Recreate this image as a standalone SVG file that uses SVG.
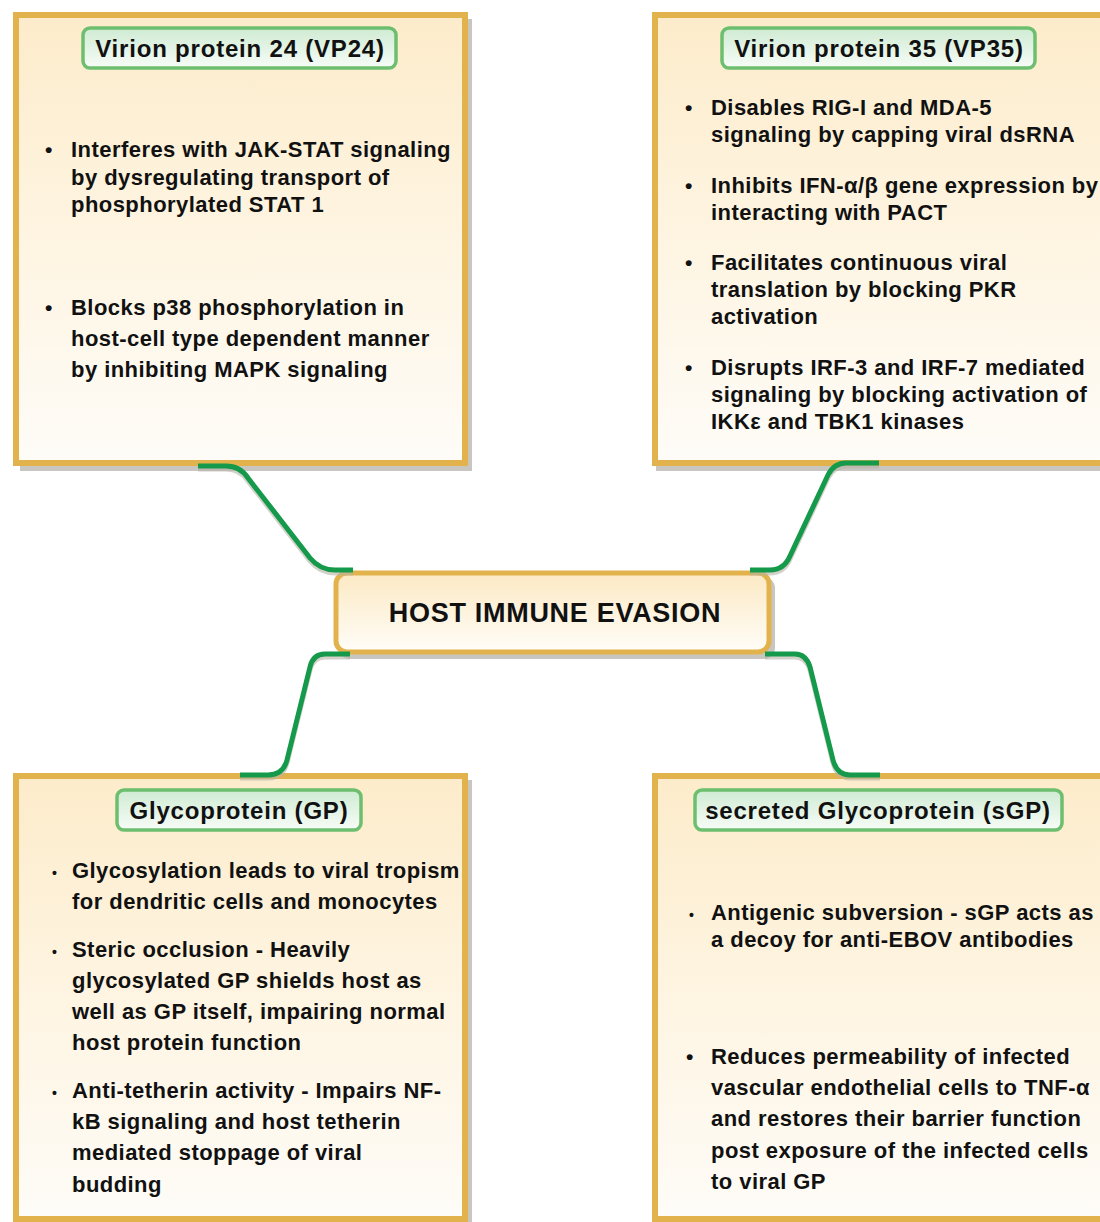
<svg xmlns="http://www.w3.org/2000/svg" width="1100" height="1222" viewBox="0 0 1100 1222">
<defs>
<linearGradient id="boxg" x1="0" y1="0" x2="0" y2="1">
<stop offset="0" stop-color="#FDECCB"/>
<stop offset="0.6" stop-color="#FEF6E6"/>
<stop offset="1" stop-color="#FEFCF8"/>
</linearGradient>
<linearGradient id="ttlg" x1="0" y1="0" x2="0" y2="1">
<stop offset="0" stop-color="#CFEBD3"/>
<stop offset="1" stop-color="#F7FCF7"/>
</linearGradient>
<linearGradient id="ctrg" x1="0" y1="0" x2="0" y2="1">
<stop offset="0" stop-color="#FCE9C4"/>
<stop offset="1" stop-color="#FFFDF8"/>
</linearGradient>
</defs>
<style>
.box{fill:url(#boxg);stroke:#E2B34D;stroke-width:6}
.shd{fill:#C9C6C1}
.ttl{fill:url(#ttlg);stroke:#6DBE6E;stroke-width:3.5}
.tt{font-family:"Liberation Sans",Arial,sans-serif;font-weight:bold;font-size:24px;letter-spacing:0.8px;fill:#111;text-anchor:middle}
.t{font-family:"Liberation Sans",Arial,sans-serif;font-weight:bold;font-size:22px;letter-spacing:0.45px;fill:#111}
.b{font-family:"Liberation Sans",Arial,sans-serif;font-weight:bold;font-size:21px;fill:#111}
.bs{font-family:"Liberation Sans",Arial,sans-serif;font-weight:bold;font-size:14px;fill:#111}
.con{fill:none;stroke:#15994A;stroke-width:5;stroke-linecap:butt}
.cons{fill:none;stroke:#B8B3A8;stroke-width:5;opacity:0.6}
</style>

<g id="vp24">
<rect class="shd" x="20" y="19" width="452" height="452"/>
<rect class="box" x="16" y="15" width="449" height="448"/>
<rect class="ttl" x="83" y="28" width="313" height="40" rx="7"/>
<text class="tt" x="240" y="57">Virion protein 24 (VP24)</text>
<text class="b" x="45" y="157">•</text>
<text class="t" x="71" y="157">Interferes with JAK-STAT signaling</text>
<text class="t" x="71" y="185">by dysregulating transport of</text>
<text class="t" x="71" y="212">phosphorylated STAT 1</text>
<text class="b" x="45" y="315">•</text>
<text class="t" x="71" y="315">Blocks p38 phosphorylation  in</text>
<text class="t" x="71" y="346">host-cell type dependent manner</text>
<text class="t" x="71" y="377">by inhibiting MAPK signaling</text>
</g>

<g id="vp35">
<rect class="shd" x="656" y="19" width="460" height="452"/>
<rect class="box" x="655" y="15" width="460" height="448"/>
<rect class="ttl" x="722" y="28" width="313" height="40" rx="7"/>
<text class="tt" x="879" y="57">Virion protein 35 (VP35)</text>
<text class="b" x="685" y="115">•</text>
<text class="t" x="711" y="115">Disables RIG-I and MDA-5</text>
<text class="t" x="711" y="142">signaling by capping viral dsRNA</text>
<text class="b" x="685" y="193">•</text>
<text class="t" x="711" y="193">Inhibits IFN-α/β gene expression by</text>
<text class="t" x="711" y="220">interacting with PACT</text>
<text class="b" x="685" y="270">•</text>
<text class="t" x="711" y="270">Facilitates continuous viral</text>
<text class="t" x="711" y="297">translation by blocking PKR</text>
<text class="t" x="711" y="324">activation</text>
<text class="b" x="685" y="375">•</text>
<text class="t" x="711" y="375">Disrupts IRF-3 and IRF-7 mediated</text>
<text class="t" x="711" y="402">signaling by blocking activation of</text>
<text class="t" x="711" y="429">IKKε and TBK1 kinases</text>
</g>

<g id="gp">
<rect class="shd" x="20" y="780" width="452" height="445"/>
<rect class="box" x="16" y="776" width="449" height="443"/>
<rect class="ttl" x="117" y="790" width="244" height="40" rx="7"/>
<text class="tt" x="239" y="819">Glycoprotein (GP)</text>
<text class="bs" x="52" y="878">•</text>
<text class="t" x="72" y="878">Glycosylation leads to viral tropism</text>
<text class="t" x="72" y="909">for dendritic cells and monocytes</text>
<text class="bs" x="52" y="957">•</text>
<text class="t" x="72" y="957">Steric occlusion - Heavily</text>
<text class="t" x="72" y="988">glycosylated GP shields host as</text>
<text class="t" x="72" y="1019">well as GP itself, impairing normal</text>
<text class="t" x="72" y="1050">host protein function</text>
<text class="bs" x="52" y="1098">•</text>
<text class="t" x="72" y="1098">Anti-tetherin activity - Impairs NF-</text>
<text class="t" x="72" y="1129">kB signaling and host tetherin</text>
<text class="t" x="72" y="1160">mediated stoppage of viral</text>
<text class="t" x="72" y="1192">budding</text>
</g>

<g id="sgp">
<rect class="shd" x="656" y="780" width="460" height="445"/>
<rect class="box" x="655" y="776" width="460" height="443"/>
<rect class="ttl" x="695" y="790" width="367" height="40" rx="7"/>
<text class="tt" x="878" y="819">secreted Glycoprotein (sGP)</text>
<text class="bs" x="689" y="920">•</text>
<text class="t" x="711" y="920">Antigenic subversion - sGP acts as</text>
<text class="t" x="711" y="947">a decoy for anti-EBOV antibodies</text>
<text class="b" x="686" y="1064">•</text>
<text class="t" x="711" y="1064">Reduces permeability of infected</text>
<text class="t" x="711" y="1095">vascular endothelial cells to TNF-α</text>
<text class="t" x="711" y="1126">and restores their barrier function</text>
<text class="t" x="711" y="1158">post exposure of the infected cells</text>
<text class="t" x="711" y="1189">to viral GP</text>
</g>

<g id="center">
<rect class="shd" x="339" y="577" width="436" height="82" rx="11"/>
<rect x="336" y="573" width="433" height="79" rx="11" fill="url(#ctrg)" stroke="#E2B34D" stroke-width="5"/>
<text x="555" y="622" font-family="Liberation Sans, Arial, sans-serif" font-weight="bold" font-size="27" letter-spacing="0.7" fill="#111" text-anchor="middle">HOST IMMUNE EVASION</text>
</g>

<g id="connectors">
<path class="cons" d="M198,469 L226,469 Q240,469 248,481 L310,561 Q320,573 335,573 L353,573"/>
<path class="cons" d="M879,466 L846,466 Q834,466 828,478 L790,559 Q784,573 770,573 L750,573"/>
<path class="cons" d="M350,657 L325,657 Q313,657 310,670 L287,763 Q283,778 268,778 L240,778"/>
<path class="cons" d="M765,657 L795,657 Q806,657 810,670 L833,763 Q837,778 850,778 L880,778"/>
<path class="con" d="M198,466 L226,466 Q240,466 248,478 L310,558 Q320,570 335,570 L353,570"/>
<path class="con" d="M879,463 L846,463 Q834,463 828,475 L790,556 Q784,570 770,570 L750,570"/>
<path class="con" d="M350,654 L325,654 Q313,654 310,667 L287,760 Q283,775 268,775 L240,775"/>
<path class="con" d="M765,654 L795,654 Q806,654 810,667 L833,760 Q837,775 850,775 L880,775"/>
</g>
</svg>
